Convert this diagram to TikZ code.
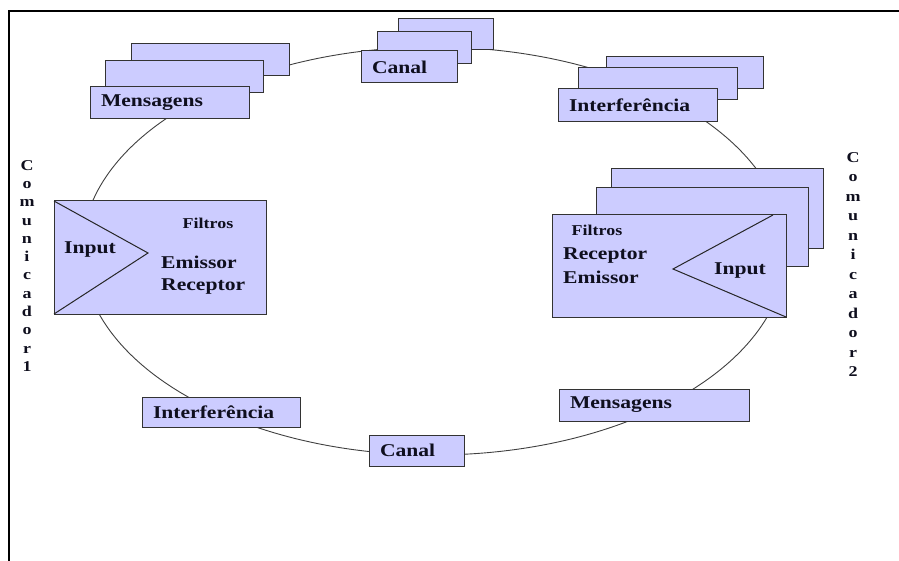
\documentclass[tikz,border=0pt]{standalone}
\usepackage{fontspec}
\setmainfont{Liberation Serif}[FakeStretch=1.2]
\definecolor{boxfill}{RGB}{204,204,255}
\definecolor{inkc}{RGB}{15,15,30}
\begin{document}
\begin{tikzpicture}[x=1pt,y=-1pt,
  frame/.style={line width=2pt},
  ring/.style={draw=black!75, line width=0.9pt},
  card/.style={draw=black!80, fill=boxfill, line width=1pt, anchor=north west, inner sep=0pt, outer sep=0pt},
  lab/.style={card, inner xsep=11pt, align=left, font=\fontsize{18}{20}\selectfont\bfseries, text=inkc},
  txt/.style={font=\fontsize{18}{22}\selectfont\bfseries, text=inkc, inner sep=0pt},
  smalltxt/.style={font=\fontsize{15}{18}\selectfont\bfseries, text=inkc, inner sep=0pt},
  vert/.style={align=center, anchor=north, inner sep=0pt, text=inkc},
  tri/.style={draw=black!85, line width=1pt}]
\useasboundingbox (0,0) rectangle (899,561);
\draw[frame] (9,562) -- (9,11) -- (900,11);

% ring
\draw[ring] (434,251) ellipse [x radius=352pt, y radius=204pt];

% top-left Mensagens stack
\node[card, minimum width=158pt, minimum height=32pt] (m1c) at (131,44) {};
\node[card, minimum width=158pt, minimum height=32pt] (m1b) at (105,61) {};
\node[lab, text width=137pt, minimum height=32pt] (m1a) at (90,87) {Mensagens};

% top Canal stack
\node[card, minimum width=95pt, minimum height=31pt] (c1c) at (398,19) {};
\node[card, minimum width=94pt, minimum height=32pt] (c1b) at (377,32) {};
\node[lab, text width=74pt, minimum height=32pt] (c1a) at (361,51) {Canal};

% top-right Interferencia stack
\node[card, minimum width=157pt, minimum height=32pt] (i1c) at (606,57) {};
\node[card, minimum width=159pt, minimum height=32pt] (i1b) at (578,68) {};
\node[lab, text width=137pt, minimum height=33pt] (i1a) at (558,89) {Interferência};

% left communicator
\node[card, minimum width=212pt, minimum height=113pt] (L) at (54,201) {};
\coordinate (La) at (148,253);
\draw[tri] (L.north west) -- (La) -- (L.south west);
\node[smalltxt] (Lf) at (208,223) {Filtros};
\node[txt] (Li) at (90,250) {Input};
\node[txt, align=left, anchor=west] (Le) at (161,275) {Emissor\\Receptor};

% right communicator stack
\node[card, minimum width=212pt, minimum height=80pt] (Rc) at (611,169) {};
\node[card, minimum width=212pt, minimum height=79pt] (Rb) at (596,188) {};
\node[card, minimum width=234pt, minimum height=102pt] (R) at (552,215) {};
\coordinate (Ra) at (673,269);
\coordinate (Rt) at (773,215);
\draw[tri] (Rt) -- (Ra) -- (R.south east);
\node[smalltxt] (Rf) at (597,230) {Filtros};
\node[txt, align=left, anchor=west, font=\fontsize{18}{24}\selectfont\bfseries] (Re) at (563,266) {Receptor\\Emissor};
\node[txt] (Ri) at (740,271) {Input};

% bottom boxes
\node[lab, text width=136pt, minimum height=30pt] (i2) at (142,397) {Interferência};
\node[lab, text width=73pt, minimum height=31pt] (c2) at (369,435) {Canal};
\node[lab, text width=168pt, minimum height=32pt] (m2) at (559,389) {Mensagens};

% vertical labels
\node[vert, font=\fontsize{15}{18.3}\selectfont\bfseries] (v1) at (27,160) {C\\o\\m\\u\\n\\i\\c\\a\\d\\o\\r\\1};
\node[vert, font=\fontsize{15}{19.5}\selectfont\bfseries] (v2) at (853,152) {C\\o\\m\\u\\n\\i\\c\\a\\d\\o\\r\\2};
\end{tikzpicture}
\end{document}
